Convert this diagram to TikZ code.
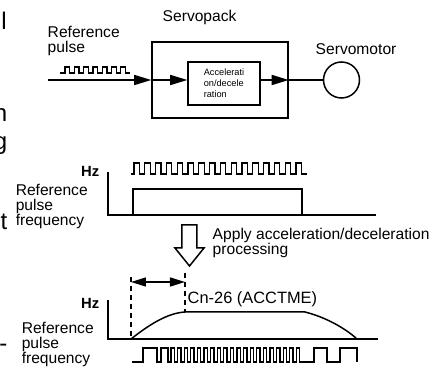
\documentclass[tikz,border=0pt]{standalone}
\usepackage{fontspec}
\setmainfont{Liberation Sans}
\usetikzlibrary{arrows.meta}

\tikzset{
  txt/.style={font=\fontsize{7.8}{7.5}\selectfont, inner sep=0pt, align=left},
  hz/.style={font=\fontsize{7.4}{7.4}\selectfont\bfseries, inner sep=0pt},
  cutoff/.style={font=\fontsize{12}{12}\selectfont, inner sep=0pt},
  flowarr/.style={-{Triangle[length=8.5pt,width=5pt]}},
  spanarr/.style={{Triangle[length=7.5pt,width=4.5pt]}-{Triangle[length=7.5pt,width=4.5pt]}},
  guide/.style={dash pattern=on 2.5pt off 2pt},
}

\begin{document}
\begin{tikzpicture}[x=0.5pt,y=-0.5pt,line width=0.75pt]
  \useasboundingbox (0,0) rectangle (446,369);
  \clip (0,0) rectangle (446,369);
  % Cut-off letters of the page text at the left edge.
  \node[cutoff, anchor=base west] (cl) at (0.5,30) {l};
  \node[cutoff, anchor=base east] (cn1) at (8,122) {n};
  \node[cutoff, anchor=base east] (cg) at (8,150) {g};
  \node[cutoff, anchor=base east] (ct) at (8,230) {t};
  \node[cutoff, anchor=base east] (cd) at (8,352) {-};

  % Servopack block with acceleration/deceleration stage.
  \node[txt, anchor=base west] (packlbl) at (162,22) {Servopack};
  \node[draw, minimum width=68pt, minimum height=38pt] (pack) at (220,80) {};
  \node[draw, minimum width=36pt, minimum height=21.5pt, inner sep=0pt,
        align=left, font=\fontsize{4.6}{5.6}\selectfont] (accel) at (224,83.5)
        {Accelerati\\on/decele\\ration};
  \node[circle, draw, minimum size=18pt, inner sep=0pt] (motor) at (341.5,80) {};
  \node[txt, anchor=base west] (motorlbl) at (315,55) {Servomotor};
  \node[txt, anchor=base west] (inlbl) at (47,53) {Reference\\pulse};
  \coordinate (in) at (48,80);
  \draw[flowarr] (in) -- (in -| pack.west);
  \draw[flowarr] (in -| pack.west) -- (in -| accel.west);
  \draw[flowarr] (in -| accel.east) -- (in -| pack.east);
  \draw (in -| pack.east) -- (motor.west);
  % Input pulse train.
  \draw[line width=0.65pt] (60,73) -- (65,73)
    foreach \k in {1,...,7} {-- ++(0,-6) -- ++(4.7,0) -- ++(0,6) -- ++(4.6,0)};

  % Reference pulse frequency before processing.
  \node[hz, anchor=base east] (hz1) at (100,177) {Hz};
  \node[txt, anchor=base west] (freq1) at (15,226) {Reference\\pulse\\frequency};
  \draw (108,172) -- (108,215) -- (376,215);
  \draw (133,215) -- (133,189) -- (302,189) -- (302,215);
  \draw[line width=0.65pt] (131,174) -- (134,174)
    foreach \k in {1,...,16} {-- ++(0,-11) -- ++(5.4,0) -- ++(0,11) -- ++(5.4,0)};

  % Processing step.
  \draw (182,225) -- (197,225) -- (197,248) -- (204,248) -- (189.5,266)
    -- (175,248) -- (182,248) -- cycle;
  \node[txt, anchor=base west] (proc) at (212,255)
    {Apply acceleration/deceleration\\processing};

  % Reference pulse frequency after processing.
  \node[hz, anchor=base east] (hz2) at (100,309) {Hz};
  \node[txt, anchor=base west] (freq2) at (21,364) {Reference\\pulse\\frequency};
  \draw (108,300) -- (108,339) -- (378,339);
  \draw (131,339) .. controls (150,324) and (168,313) .. (185,312) -- (305,312)
    .. controls (325,317) and (345,328) .. (357,339);
  \draw[guide] (131,277) -- (131,339);
  \draw[guide] (185,273) -- (185,312);
  \coordinate (acc0) at (131,282);
  \coordinate (acc1) at (185,282);
  \draw[spanarr] (acc0) -- (acc1);
  \node[txt, anchor=base west, font=\fontsize{8.2}{8}\selectfont] (time) at (187,304)
    {Cn-26 (ACCTME)};
  \draw[line width=0.65pt] (132,362) -- (143,362) -- (143,348) -- (157,348)
    -- (157,362) -- (161,362) -- (161,348) -- (168,348) -- (168,362) -- (171,362)
    foreach \k in {1,...,20} {-- ++(0,-14) -- ++(3.3,0) -- ++(0,14) -- ++(3.3,0)}
    -- (314,362) -- (314,348) -- (327,348) -- (327,362) -- (340,362)
    -- (340,348) -- (357,348) -- (357,362);
\end{tikzpicture}
\end{document}
